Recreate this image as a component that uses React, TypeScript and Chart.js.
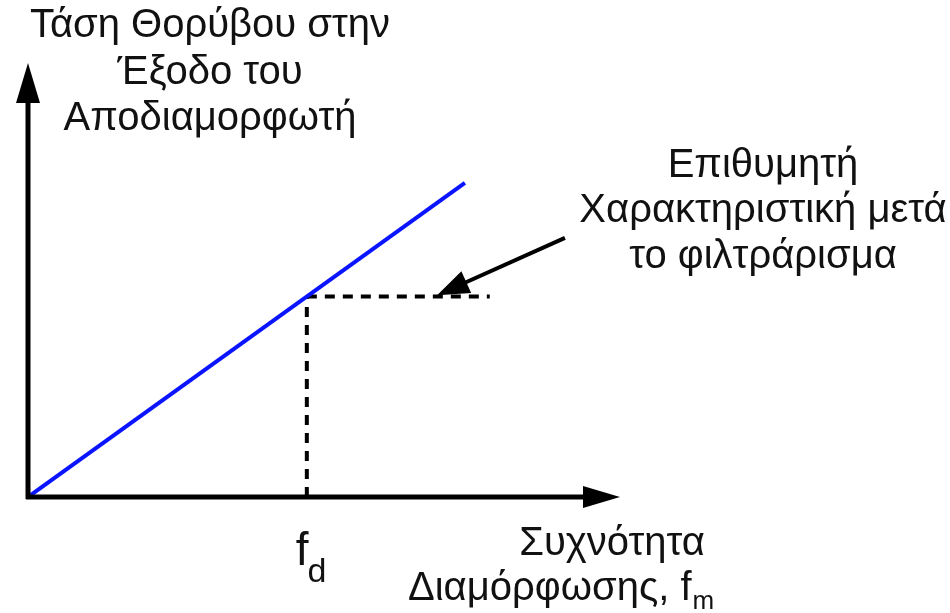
import React, { useEffect, useRef } from "react";
import { Chart, registerables } from "chart.js";

Chart.register(...registerables);

// Demodulator output noise voltage vs modulation frequency (arbitrary units)
const responseX = [0, 7.38];
const responseY = [0, 7.24];

// Frequency f_d where the desired response levels off after filtering
const fdX = 4.71;
const fdLevel = (responseY[1] / responseX[1]) * fdX;
const flatEndX = 7.8;

// Annotation arrow: from label towards the flat part of the dashed curve
const calloutFrom = [9.07, 5.97];
const calloutTo = [6.91, 4.65];

const yTitleLines = ["Τάση Θορύβου στην", "Έξοδο του", "Αποδιαμορφωτή"];
const calloutLines = ["Επιθυμητή", "Χαρακτηριστική μετά", "το φιλτράρισμα"];
const xTitleLine1 = "Συχνότητα";
const xTitleLine2 = "Διαμόρφωσης, f";
const xTitleSub = "m";
const fdLabel = "f";
const fdSub = "d";

const FONT = '"Liberation Sans", Arial, sans-serif';

function arrowHead(
  ctx: CanvasRenderingContext2D,
  tipX: number,
  tipY: number,
  dirX: number,
  dirY: number,
  len: number,
  half: number
) {
  const l = Math.hypot(dirX, dirY);
  const ux = dirX / l;
  const uy = dirY / l;
  const bx = tipX - ux * len;
  const by = tipY - uy * len;
  ctx.beginPath();
  ctx.moveTo(tipX, tipY);
  ctx.lineTo(bx - uy * half, by + ux * half);
  ctx.lineTo(bx + uy * half, by - ux * half);
  ctx.closePath();
  ctx.fill();
}

const decorations = {
  id: "decorations",
  afterDatasetsDraw(chart: any) {
    const { ctx, chartArea, scales } = chart;
    const xs = scales.x;
    const ys = scales.y;
    const ox = xs.getPixelForValue(0);
    const oy = ys.getPixelForValue(0);
    ctx.save();
    ctx.fillStyle = "#000";
    ctx.strokeStyle = "#000";

    // Axes with arrowheads
    ctx.lineWidth = 5;
    ctx.lineCap = "butt";
    ctx.beginPath();
    ctx.moveTo(ox, oy + 2);
    ctx.lineTo(ox, chartArea.top + 30);
    ctx.stroke();
    ctx.beginPath();
    ctx.moveTo(ox - 2, oy);
    ctx.lineTo(chartArea.right - 30, oy);
    ctx.stroke();
    arrowHead(ctx, ox, chartArea.top, 0, -1, 40, 12);
    arrowHead(ctx, chartArea.right, oy, 1, 0, 37, 11);

    // Callout arrow
    const ax = xs.getPixelForValue(calloutFrom[0]);
    const ay = ys.getPixelForValue(calloutFrom[1]);
    const tx = xs.getPixelForValue(calloutTo[0]);
    const ty = ys.getPixelForValue(calloutTo[1]);
    const dx = tx - ax;
    const dy = ty - ay;
    const dl = Math.hypot(dx, dy);
    ctx.lineWidth = 4;
    ctx.beginPath();
    ctx.moveTo(ax, ay);
    ctx.lineTo(tx - (dx / dl) * 25, ty - (dy / dl) * 25);
    ctx.stroke();
    arrowHead(ctx, tx, ty, dx, dy, 32, 12);

    // Texts
    ctx.fillStyle = "#111";
    ctx.textBaseline = "alphabetic";
    ctx.font = `40px ${FONT}`;
    ctx.textAlign = "center";
    const yTitleCx = ox + 182;
    yTitleLines.forEach((t, i) => ctx.fillText(t, yTitleCx, 37 + i * 46.5));

    const calloutCx = 763;
    const calloutTop = ys.getPixelForValue(responseY[1]) - 6;
    calloutLines.forEach((t, i) => ctx.fillText(t, calloutCx, calloutTop + i * 45.5));

    // f_d under the dashed drop line
    const fdPx = xs.getPixelForValue(fdX);
    ctx.textAlign = "left";
    ctx.font = `46px ${FONT}`;
    const fW = ctx.measureText(fdLabel).width;
    ctx.fillText(fdLabel, fdPx - 11, oy + 68);
    ctx.font = `34px ${FONT}`;
    ctx.fillText(fdSub, fdPx - 12 + fW, oy + 85);

    // x-axis title
    ctx.font = `40px ${FONT}`;
    ctx.textAlign = "center";
    ctx.fillText(xTitleLine1, 612, oy + 58);
    ctx.textAlign = "left";
    const l2 = ctx.measureText(xTitleLine2).width;
    const l2x = 408;
    ctx.fillText(xTitleLine2, l2x, oy + 103);
    ctx.font = `26px ${FONT}`;
    ctx.fillText(xTitleSub, l2x + l2 + 1, oy + 112);

    ctx.restore();
  },
};

export default function App() {
  const ref = useRef<HTMLCanvasElement | null>(null);

  useEffect(() => {
    document.body.style.margin = "0";
    const canvas = ref.current;
    if (!canvas) return;
    const chart = new Chart(canvas, {
      type: "scatter",
      data: {
        datasets: [
          {
            label: "response",
            data: responseX.map((x, i) => ({ x, y: responseY[i] })),
            showLine: true,
            borderColor: "#0a14ff",
            borderWidth: 4,
            pointRadius: 0,
            order: 1,
          },
          {
            label: "drop",
            data: [
              { x: fdX, y: 0 },
              { x: fdX, y: fdLevel },
            ],
            showLine: true,
            borderColor: "#000",
            borderWidth: 4,
            borderDash: [10, 8],
            pointRadius: 0,
            order: 2,
          },
          {
            label: "flat",
            data: [
              { x: fdX, y: fdLevel },
              { x: flatEndX, y: fdLevel },
            ],
            showLine: true,
            borderColor: "#000",
            borderWidth: 4,
            borderDash: [10, 8],
            pointRadius: 0,
            order: 2,
          },
        ],
      },
      options: {
        animation: false,
        responsive: false,
        maintainAspectRatio: false,
        layout: { padding: { left: 28, right: 330, top: 63, bottom: 116 } },
        plugins: { legend: { display: false }, tooltip: { enabled: false } },
        scales: {
          x: { type: "linear", min: 0, max: 10, display: false },
          y: { type: "linear", min: 0, max: 10, display: false },
        },
      },
      plugins: [decorations],
    });
    return () => chart.destroy();
  }, []);

  return (
    <div style={{ position: "fixed", left: 0, top: 0, width: 950, height: 613, background: "#fff" }}>
      <canvas ref={ref} width={950} height={613} style={{ display: "block" }} />
    </div>
  );
}
